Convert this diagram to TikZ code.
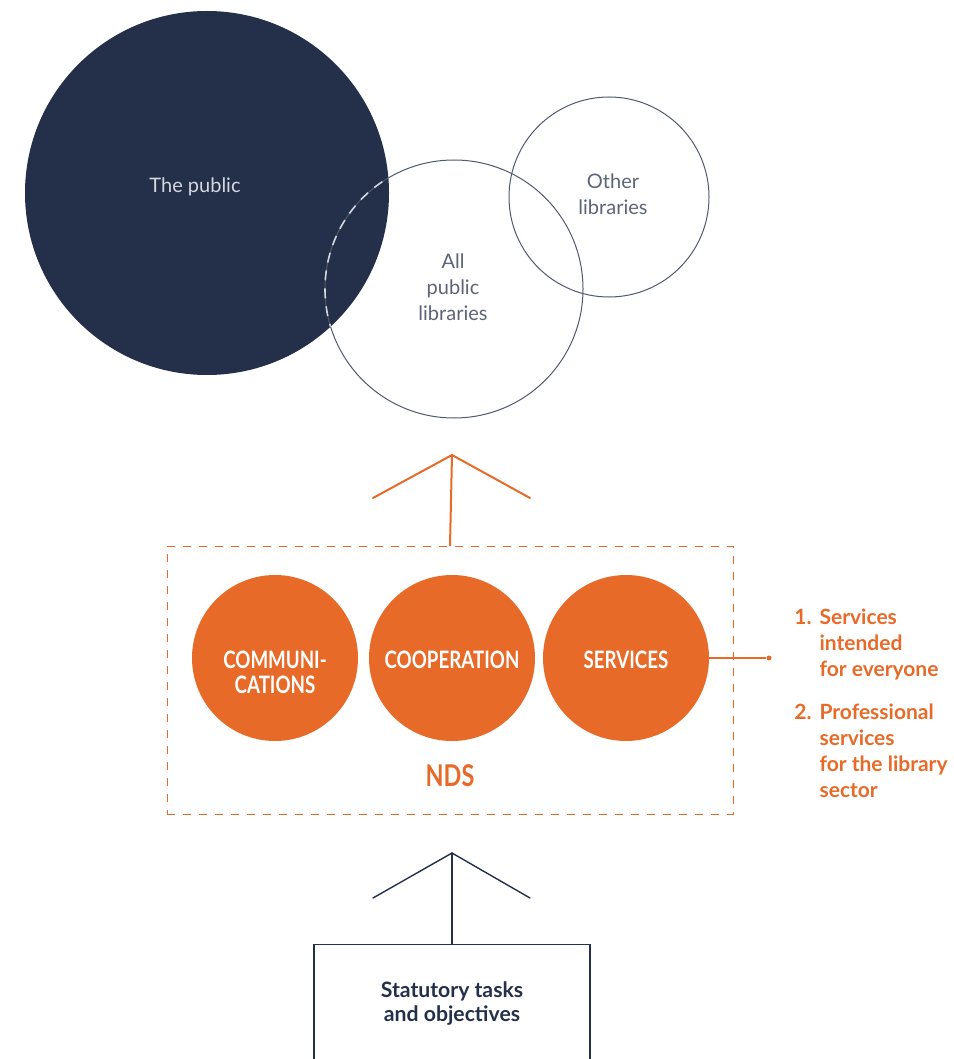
\documentclass[tikz,border=0pt]{standalone}
\usepackage{fontspec}
\setmainfont{Lato}
\newfontfamily\condfont[FakeStretch=0.78]{Lato}
\usetikzlibrary{positioning}
\definecolor{navy}{HTML}{243049}
\definecolor{ndsorange}{HTML}{E76A28}
\definecolor{txtgray}{HTML}{5C6478}
\definecolor{palegray}{HTML}{D3D7DF}

\begin{document}
\begin{tikzpicture}[x=0.5pt,y=-0.5pt,
  ring/.style={circle,draw=navy!80,line width=0.5pt,inner sep=0pt},
  ringtext/.style={text=txtgray,align=center,font=\fontsize{10}{13}\selectfont},
  pillar/.style={circle,fill=ndsorange,minimum size=83pt,inner sep=0pt},
  pillartext/.style={anchor=north,inner sep=0pt,text=white,align=center,
    font=\condfont\bfseries\fontsize{12}{12.5}\selectfont},
  chevron/.style={line width=1pt,line cap=round}]
\clip (0,0) rectangle (953,1059);

% circles at the top
\node[circle,fill=navy,minimum size=182pt,inner sep=0pt] (public) at (207,193) {};
\node[ring,minimum size=129pt] (allpub) at (454,289) {};
\node[ring,minimum size=100pt] (other) at (609,197) {};
\begin{scope}
\clip (207,193) circle (182);
\draw[white!80!navy,line width=0.8pt,dash pattern=on 5pt off 4pt] (454,289) circle (129);
\end{scope}
\node[text=palegray,font=\fontsize{10}{13}\selectfont] (publictxt) at (195,187) {The public};
\node[ringtext] (allpubtxt) at (453,287) {All\\public\\libraries};
\node[ringtext] (othertxt) at (613,194) {Other\\libraries};

% NDS box
\node[draw=ndsorange,line width=0.5pt,dash pattern=on 4pt off 4pt,
  minimum width=283pt,minimum height=134pt,inner sep=0pt] (nds) at (450,680) {};
\node[pillar] (comm) at (275,658) {};
\node[pillar] (coop) at (452,658) {};
\node[pillar] (serv) at (626,658) {};
\node[pillartext] (commtxt) at (275,651) {COMMUNI-\\CATIONS};
\node[pillartext] (cooptxt) at (452,651) {COOPERATION};
\node[pillartext] (servtxt) at (626,651) {SERVICES};
\node[text=ndsorange,font=\condfont\bfseries\fontsize{15}{16}\selectfont] (ndstxt) at (450,776) {NDS};

\coordinate (uptip) at (452,455);
\draw[chevron,ndsorange] (uptip) -- (nds.north);
\draw[chevron,ndsorange] ([shift={(-79,43)}]uptip) -- (uptip) -- ++(78,43);

% services list
\node[circle,fill=ndsorange,minimum size=2.5pt,inner sep=0pt] (dot) at (769,658) {};
\draw[ndsorange,line width=0.6pt] (serv.east) -- (dot);
\node[anchor=north west,inner sep=0pt,text=ndsorange,
  font=\bfseries\fontsize{10.5}{13}\selectfont] (servlist) at (794,606) {
\begin{tabular}{@{}l@{\hspace{4pt}}l@{}}
1. & Services\\
   & intended\\
   & for everyone\\[8.5pt]
2. & Professional\\
   & services\\
   & for the library\\
   & sector
\end{tabular}};

% statutory box
\node[draw=navy,line width=0.6pt,minimum width=138pt,minimum height=59pt,
  anchor=north,inner sep=0pt,text=navy,align=center,
  font=\bfseries\fontsize{10.6}{12}\selectfont] (tasks) at (452,944) {Statutory tasks\\and objectives};
\coordinate (lowtip) at (452,853);
\draw[chevron,navy,line width=0.7pt] (tasks.north) -- (lowtip);
\draw[chevron,navy,line width=0.7pt] ([shift={(-79,45)}]lowtip) -- (lowtip) -- ++(78,45);
\end{tikzpicture}
\end{document}
